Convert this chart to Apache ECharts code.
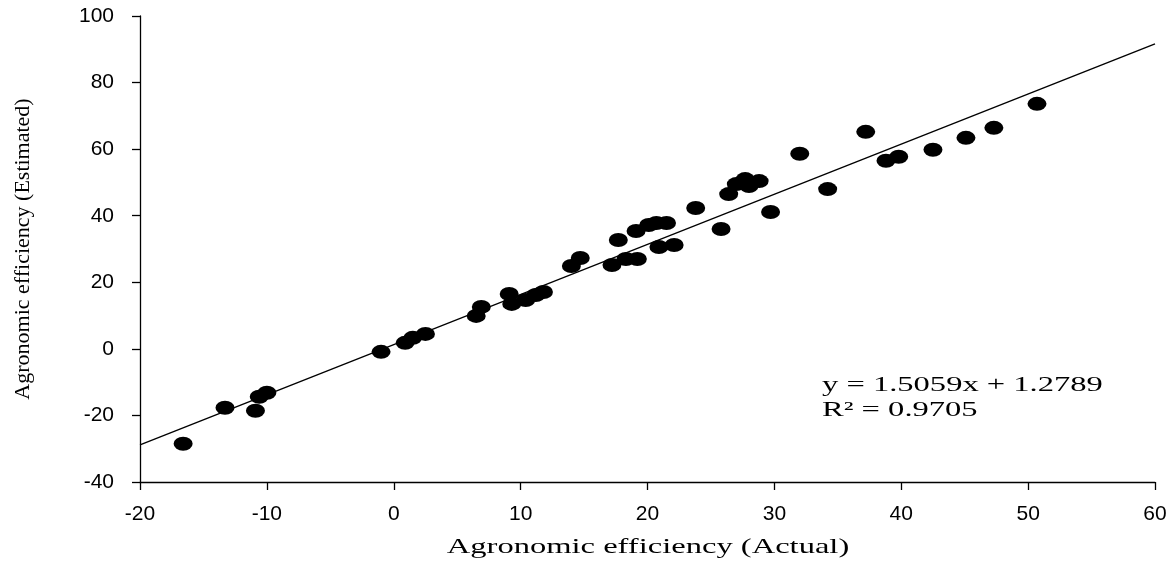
<!DOCTYPE html>
<html>
<head>
<meta charset="utf-8">
<script src="https://cdn.jsdelivr.net/npm/echarts@6/dist/echarts.min.js"></script>
<style>
html,body{margin:0;padding:0;background:#fff;}
#chart{width:1175px;height:564px;}
</style>
</head>
<body>
<div id="chart"></div>
<script>
const actual = [-16.6,-13.3,-10.9,-10.6,-10.0,-1.0,0.9,1.5,2.5,
  6.5,6.9,9.1,9.3,10.4,11.2,11.8,14.0,14.7,17.2,17.7,18.3,19.2,19.1,20.1,20.7,21.5,20.9,22.1,
  23.8,25.8,26.4,27.0,27.7,28.0,28.8,29.7,
  32.0,34.2,37.2,38.8,39.8,42.5,45.1,47.3,50.7];
const estimated = [-28.5,-17.7,-18.6,-14.4,-13.2,-0.9,1.8,3.3,4.5,
  9.9,12.6,16.5,13.5,14.7,16.2,17.1,24.9,27.3,25.2,32.7,27.0,27.0,35.4,37.2,37.8,37.8,30.6,31.2,
  42.3,36.0,46.5,49.5,51.0,48.9,50.4,41.1,
  58.6,48.0,65.2,56.5,57.7,59.8,63.4,66.4,73.6];
const slope = 1.5059;
const intercept = 1.2789;
const xRange = [-20, 60];
const yRange = [-40, 100];
const xTitle = 'Agronomic efficiency (Actual)';
const yTitle = 'Agronomic efficiency (Estimated)';
const equationText = 'y = 1.5059x + 1.2789';
const r2Text = 'R² = 0.9705';

const points = actual.map((x, i) => [x, estimated[i]]);
const fitLine = xRange.map(x => [x, slope * x + intercept]);

const chart = echarts.init(document.getElementById('chart'));
chart.setOption({
  animation: false,
  grid: {left: 140, right: 20, top: 16, bottom: 82},
  xAxis: {
    type: 'value', min: xRange[0], max: xRange[1], interval: 10,
    axisLine: {onZero: false, lineStyle: {color: '#000', width: 1.3}},
    axisTick: {show: true, length: 8, lineStyle: {color: '#000', width: 1.3}},
    axisLabel: {fontFamily: 'Liberation Sans', fontSize: 21, color: '#000', margin: 22},
    splitLine: {show: false}
  },
  yAxis: {
    type: 'value', min: yRange[0], max: yRange[1], interval: 20,
    name: yTitle, nameLocation: 'middle', nameGap: 106,
    nameTextStyle: {fontFamily: 'Liberation Serif', fontSize: 22, color: '#000'},
    axisLine: {show: true, onZero: false, lineStyle: {color: '#000', width: 1.3}},
    axisTick: {show: true, length: 8, lineStyle: {color: '#000', width: 1.3}},
    axisLabel: {fontFamily: 'Liberation Sans', fontSize: 21, color: '#000', margin: 26},
    splitLine: {show: false}
  },
  series: [
    {
      type: 'line', data: fitLine, symbol: 'none',
      lineStyle: {color: '#000', width: 1.3}, z: 1
    },
    {
      type: 'scatter', data: points, symbol: 'circle', symbolSize: [19, 14],
      itemStyle: {color: '#000', opacity: 1}, z: 2
    }
  ],
  graphic: [
    {type: 'text', x: 648, y: 547, scaleX: 1.55,
     style: {text: xTitle, font: '21px "Liberation Serif"', fill: '#000', textAlign: 'center', textVerticalAlign: 'middle'}},
    {type: 'text', x: 822, y: 385, scaleX: 1.55,
     style: {text: equationText, font: '21px "Liberation Serif"', fill: '#000', textAlign: 'left', textVerticalAlign: 'middle'}},
    {type: 'text', x: 822, y: 410, scaleX: 1.55,
     style: {text: r2Text, font: '21px "Liberation Serif"', fill: '#000', textAlign: 'left', textVerticalAlign: 'middle'}}
  ]
});
</script>
</body>
</html>
